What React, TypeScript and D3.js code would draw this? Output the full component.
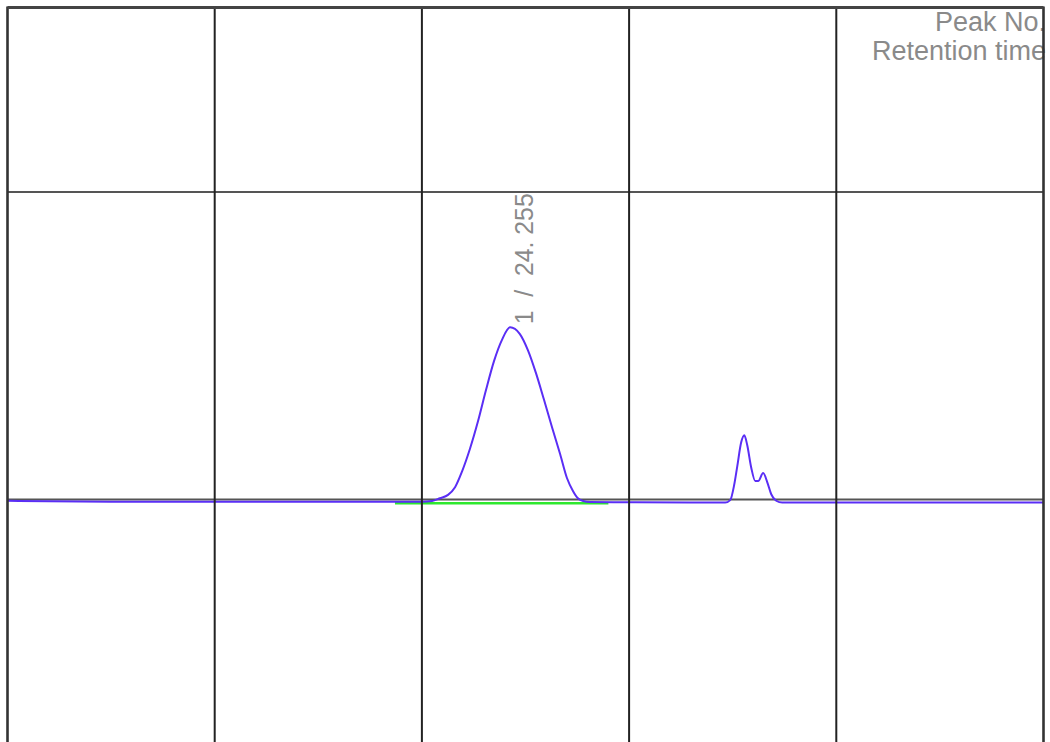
import React from "react";
import * as d3 from "d3";

// chromatogram trace, time in min, signal in mV
const times = [
  0, 2, 5, 10, 15, 20, 20.49, 20.87, 21.26, 21.6, 21.93, 22.32, 22.71, 23.09,
  23.48, 23.87, 24.255, 24.73, 25.12, 25.51, 25.89, 26.28, 26.67, 27.0, 27.29,
  27.53, 27.78, 28.12, 30, 33, 34.64, 34.88, 35.07, 35.22, 35.41, 35.56, 35.7,
  35.89, 36.09, 36.23, 36.47, 36.67, 36.86, 37.1, 37.39, 40, 45, 50,
];
const signal = [
  -0.4, -0.6, -0.7, -0.7, -0.7, -0.7, -0.5, 0.4, 1.5, 4.0, 9.0, 16.5, 25.5,
  35.5, 45.0, 52.0, 56.0, 53.8, 48.5, 41.0, 32.5, 23.5, 14.8, 7.0, 2.8, 0.4,
  -0.5, -0.8, -0.9, -1.0, -1.0, -0.2, 4.7, 10.8, 18.6, 20.9, 17.7, 10.5, 6.0,
  6.0, 8.6, 5.6, 1.7, -0.4, -1.0, -1.0, -1.0, -1.0,
];

// integration baseline of peak 1
const baseStart = [18.7, -1.2];
const baseEnd = [29.0, -1.2];

const peakNo = 1;
const peakTime = 24.255;
const peakHeight = 56.0;

const xTicks = [0, 10, 20, 30, 40, 50];
const yTicks = [-100, 0, 100];

export default function App() {
  const width = 1050;
  const height = 742;

  const x = d3.scaleLinear().domain([0, 50]).range([7.5, 1043.5]);
  const y = d3.scaleLinear().domain([0, 100]).range([499.5, 192]);
  const yTop = 160;

  const line = d3
    .line<number>()
    .x((d, i) => x(times[i]))
    .y((d) => y(d))
    .curve(d3.curveMonotoneX);

  const labelX = x(peakTime) + 23;
  const labelY = y(peakHeight) - 3;

  return (
    <svg
      width={width}
      height={height}
      style={{ position: "absolute", left: 0, top: 0, background: "#fff" }}
    >
      {/* horizontal grid */}
      {yTicks.map((t) => (
        <line
          key={"h" + t}
          x1={x(0)}
          x2={x(50)}
          y1={y(t)}
          y2={y(t)}
          stroke="#555"
          strokeWidth={2.2}
        />
      ))}

      <line
        x1={x(baseStart[0])}
        x2={x(baseEnd[0])}
        y1={y(baseStart[1])}
        y2={y(baseEnd[1])}
        stroke="#2ee82e"
        strokeWidth={2.5}
      />

      <path
        d={line(signal) || ""}
        fill="none"
        stroke="#5a2ef5"
        strokeWidth={2}
      />

      <text
        transform={`translate(${labelX},${labelY}) rotate(-90)`}
        fontFamily="Liberation Sans, Arial, sans-serif"
        fontSize={26}
        fill="#8a8a8a"
        textLength={131}
        lengthAdjust="spacingAndGlyphs"
        style={{ whiteSpace: "pre" }}
      >
        {`${peakNo}  /  24. 255`}
      </text>

      <text
        x={1046}
        y={31}
        textAnchor="end"
        fontFamily="Liberation Sans, Arial, sans-serif"
        fontSize={27}
        fill="#8a8a8a"
      >
        Peak No.
      </text>
      <text
        x={1046}
        y={60}
        textAnchor="end"
        fontFamily="Liberation Sans, Arial, sans-serif"
        fontSize={27}
        fill="#8a8a8a"
      >
        Retention time
      </text>

      {/* vertical grid */}
      {xTicks.map((t) => (
        <line
          key={"v" + t}
          x1={x(t)}
          x2={x(t)}
          y1={y(yTop) - 1}
          y2={height + 20}
          stroke={t === 0 || t === 50 ? "#333" : "#222"}
          strokeWidth={t === 0 || t === 50 ? 2.6 : 2}
        />
      ))}

      {/* top border */}
      <line
        x1={x(0)}
        x2={x(50)}
        y1={y(yTop)}
        y2={y(yTop)}
        stroke="#444"
        strokeWidth={3}
      />
    </svg>
  );
}
